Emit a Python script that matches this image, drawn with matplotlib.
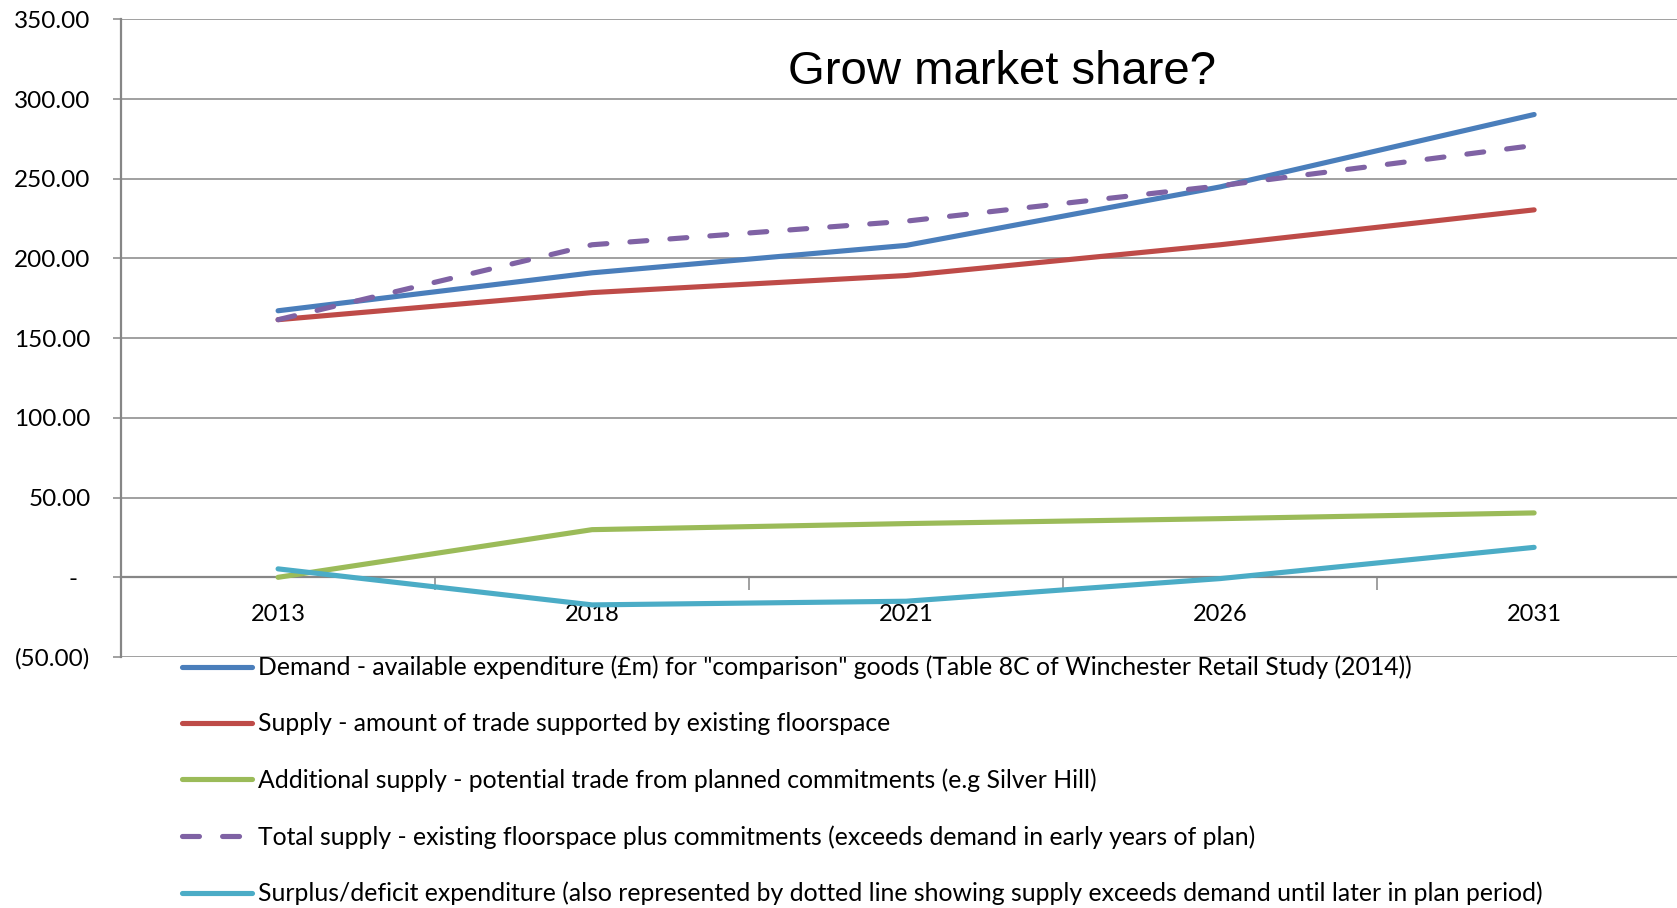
import numpy as np
import matplotlib.pyplot as plt
from matplotlib.ticker import FixedLocator, FuncFormatter

# Retail expenditure forecast (£m), comparison goods
years = ["2013", "2018", "2021", "2026", "2031"]
demand = [167.2, 191.0, 208.2, 244.9, 290.3]
supply = [161.6, 178.6, 189.3, 208.6, 230.5]
additional_supply = [0.0, 29.9, 33.7, 36.8, 40.4]
total_supply = [161.6, 208.6, 223.4, 245.6, 270.9]
surplus_deficit = [5.3, -17.3, -15.0, -0.8, 18.8]

labels = [
    'Demand - available expenditure (£m) for "comparison" goods (Table 8C of Winchester Retail Study (2014))',
    "Supply - amount of trade supported by existing floorspace",
    "Additional supply - potential trade from planned commitments (e.g Silver Hill)",
    "Total supply - existing floorspace plus commitments (exceeds demand in early years of plan)",
    "Surplus/deficit expenditure (also represented by dotted line showing supply exceeds demand until later in plan period)",
]

GRID = "#868686"
TEXT_FONT = ["Lato", "DejaVu Sans"]


def money_fmt(v, pos):
    # accounting-style labels: dash for zero, brackets for negatives
    if abs(v) < 1e-9:
        return "-  "
    if v < 0:
        return f"({abs(v):.2f})"
    return f"{v:.2f}"


fig = plt.figure(figsize=(16.77, 9.08), dpi=100)
ax = fig.add_axes([0.0722, 0.2764, 0.9278, 0.7023])

x = np.arange(len(years))
lw = 3.7
ax.plot(x, demand, color="#4A7EBB", lw=lw, solid_capstyle="round", label=labels[0], zorder=4)
ax.plot(x, supply, color="#BE4B48", lw=lw, solid_capstyle="round", label=labels[1], zorder=3)
ax.plot(x, additional_supply, color="#9BBB59", lw=lw, solid_capstyle="round", label=labels[2], zorder=3)
ax.plot(x, total_supply, color="#7F62A4", lw=lw, dashes=(3.3, 4.5), dash_capstyle="round",
        label=labels[3], zorder=5)
ax.plot(x, surplus_deficit, color="#4BACC6", lw=lw, solid_capstyle="round", label=labels[4], zorder=4)

ax.set_xlim(-0.5, 4.455)
ax.set_ylim(-50, 350)

# y axis: gridlines every 50 with short outside ticks
ax.yaxis.set_major_locator(FixedLocator(np.arange(-50, 351, 50)))
ax.yaxis.set_major_formatter(FuncFormatter(money_fmt))
ax.grid(axis="y", color=GRID, lw=1.1, zorder=0)
ax.tick_params(axis="y", direction="out", length=6, width=1.1, color=GRID, pad=16,
               labelsize=17.5)

# x axis sits on zero, ticks between categories
ax.spines["bottom"].set_position(("data", 0))
ax.spines["bottom"].set_color(GRID)
ax.spines["bottom"].set_linewidth(1.6)
ax.spines["left"].set_color(GRID)
ax.spines["left"].set_linewidth(1.6)
ax.spines["top"].set_visible(False)
ax.spines["right"].set_visible(False)
ax.set_xticks(x)
ax.set_xticklabels(years)
ax.set_xticks(np.arange(0.5, 4.0, 1.0), minor=True)
ax.tick_params(axis="x", which="major", length=0, pad=19, labelsize=17)
ax.tick_params(axis="x", which="minor", direction="out", length=9, width=1.1, color=GRID)

for lab in ax.get_xticklabels() + ax.get_yticklabels():
    lab.set_family(TEXT_FONT)

ax.text(0.566, 0.918, "Grow market share?", transform=ax.transAxes, ha="center", va="center",
        fontsize=34, family="Liberation Sans")

leg = fig.legend(loc="upper left", bbox_to_anchor=(0.1085, 0.278), frameon=False,
                 borderpad=0, borderaxespad=0, handlelength=2.83, handletextpad=0.24,
                 labelspacing=1.34, prop={"family": TEXT_FONT, "size": 17.8})

fig.savefig("out.png", dpi=100)
